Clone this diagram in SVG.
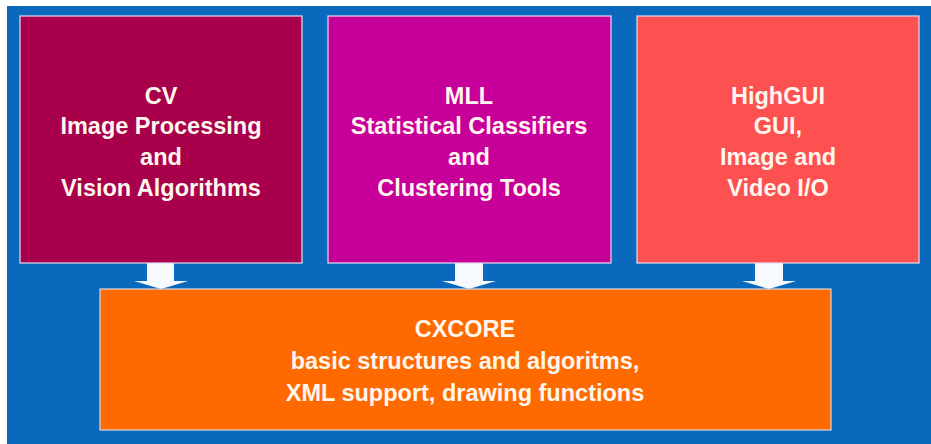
<svg xmlns="http://www.w3.org/2000/svg" width="931" height="444" viewBox="0 0 931 444">
  <style>
    .box { stroke: #e6dcef; stroke-width: 1.2; }
    .lbl { font-family: "Liberation Sans", Arial, sans-serif; font-weight: bold; font-size: 23.5px; fill: #fff6ee; text-anchor: middle; }
    .arrow { fill: #f6f9fd; }
  </style>
  <rect x="0" y="0" width="931" height="444" fill="#ffffff"/>
  <rect x="7" y="6" width="924" height="438" fill="#0a69bd"/>

  <g id="connectors">
    <polygon class="arrow" points="147,263 174,263 174,281 188,281 161,289 134,281 147,281"/>
    <polygon class="arrow" points="455,263 483,263 483,281 496,281 469,289 442,281 455,281"/>
    <polygon class="arrow" points="755,263 783,263 783,281 796,281 769,289 742,281 755,281"/>
  </g>

  <g id="cv">
    <rect class="box" x="20" y="16" width="282" height="247" fill="#a8004a"/>
    <text class="lbl" x="161" y="104">CV</text>
    <text class="lbl" x="161" y="134">Image Processing</text>
    <text class="lbl" x="161" y="165">and</text>
    <text class="lbl" x="161" y="196">Vision Algorithms</text>
  </g>

  <g id="mll">
    <rect class="box" x="328" y="16" width="283" height="247" fill="#c8009a"/>
    <text class="lbl" x="469" y="104">MLL</text>
    <text class="lbl" x="469" y="134">Statistical Classifiers</text>
    <text class="lbl" x="469" y="165">and</text>
    <text class="lbl" x="469" y="196">Clustering Tools</text>
  </g>

  <g id="highgui">
    <rect class="box" x="637" y="16" width="282" height="247" fill="#fd5050"/>
    <text class="lbl" x="778" y="104">HighGUI</text>
    <text class="lbl" x="778" y="134">GUI,</text>
    <text class="lbl" x="778" y="165">Image and</text>
    <text class="lbl" x="778" y="196">Video I/O</text>
  </g>

  <g id="cxcore">
    <rect x="100" y="289" width="731" height="141" fill="#ff6a00" stroke="#d8d8e0" stroke-width="1.2"/>
    <text class="lbl" x="465" y="337">CXCORE</text>
    <text class="lbl" x="465" y="369">basic structures and algoritms,</text>
    <text class="lbl" x="465" y="401">XML support, drawing functions</text>
  </g>
</svg>
